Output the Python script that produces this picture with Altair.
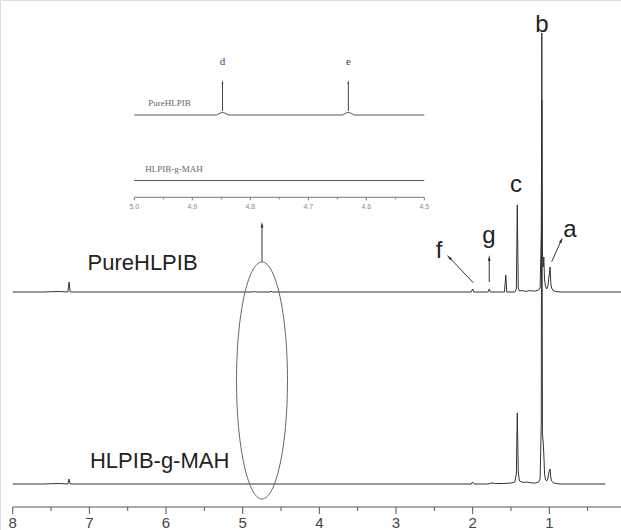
import altair as alt
import pandas as pd

# ---------------- data ----------------
# Main 1H NMR traces: chemical shift (ppm) and relative intensity
ppm_pure = [8.00, 7.60, 7.40, 7.28, 7.265, 7.25, 6.50, 5.50, 4.86, 4.848, 4.835, 4.64, 4.631, 4.62,
            3.00, 2.02, 2.00, 1.985, 1.80, 1.783, 1.77, 1.585, 1.568, 1.555, 1.45, 1.43, 1.418, 1.405,
            1.39, 1.36, 1.33, 1.30, 1.26, 1.22, 1.18, 1.14, 1.12, 1.105, 1.098, 1.09, 1.08, 1.072,
            1.062, 1.05, 1.035, 1.02, 1.005, 0.99, 0.98, 0.97, 0.95, 0.92, 0.85, 0.60, 0.30, 0.00]
int_pure = [0, 0, 0.5, 0, 10, 0, 0, 0, 0, 1, 0, 0, 1, 0,
            0, 0, 3, 0, 0, 3, 0, 0, 17, 0, 0, 3, 87, 4,
            1, 1.5, 1, 0.5, 1.5, 1, 1, 2, 4, 60, 192, 40, 25, 35,
            12, 6, 3, 5, 15, 25, 8, 4, 1.5, 0.5, 0, 0, 0, 0]

ppm_mah = [8.00, 7.60, 7.40, 7.28, 7.265, 7.25, 6.50, 5.00, 4.00, 2.02, 2.00, 1.98, 1.80, 1.75,
           1.70, 1.60, 1.50, 1.45, 1.43, 1.418, 1.405, 1.39, 1.36, 1.33, 1.30, 1.26, 1.22, 1.18,
           1.14, 1.12, 1.105, 1.098, 1.09, 1.08, 1.072, 1.062, 1.05, 1.035, 1.02, 1.005, 0.99,
           0.98, 0.97, 0.95, 0.92, 0.85, 0.60, 0.27]
int_mah = [0, 0, 0.5, 0, 5, 0, 0, 0, 0, 0, 2, 0, 0, 1,
           0.5, 0.5, 1, 2, 10, 71, 12, 3, 2, 1.5, 2, 1.5, 1, 1,
           2, 5, 60, 451, 50, 42, 30, 10, 4, 3, 5, 12, 15,
           6, 3, 1.5, 0.5, 0, 0, 0]

# Inset (5.0 - 4.5 ppm zoom)
inset_ppm_pure = [5.0, 4.858, 4.852, 4.848, 4.844, 4.838, 4.641, 4.635, 4.631, 4.627, 4.621, 4.5]
inset_int_pure = [0, 0, 2, 2.5, 2, 0, 0, 2, 2.5, 2, 0, 0]
inset_ppm_mah = [5.0, 4.5]
inset_int_mah = [0, 0]

# Axis ticks
main_ticks = [1, 2, 3, 4, 5, 6, 7, 8]
main_tick_labels = ["1", "2", "3", "4", "5", "6", "7", "8"]
main_minor = [0.5, 1.5, 2.5, 3.5, 4.5, 5.5, 6.5, 7.5]
axis_range = [8.0, 0.0]
inset_major = [5.0, 4.9, 4.8, 4.7, 4.6, 4.5]
inset_major_labels = ["5.0", "4.9", "4.8", "4.7", "4.6", "4.5"]
inset_minor = [4.95, 4.85, 4.75, 4.65, 4.55]

# Peak labels
peak_labels = ["b", "c", "a", "g", "f"]
peak_label_ppm = [1.095, 1.435, 0.730, 1.787, 2.439]
peak_label_y = [452.3, 292.3, 246.7, 241.0, 226.0]

# Trace names
trace_names = ["PureHLPIB", "HLPIB-g-MAH"]
trace_name_ppm = [7.024, 6.992]
trace_name_y = [214.0, 16.0]

inset_names = ["PureHLPIB", "HLPIB-g-MAH"]
inset_name_ppm = [4.976, 4.981]
inset_name_y = [381.5, 315.5]
inset_peak_labels = ["d", "e"]
inset_peak_ppm = [4.848, 4.631]
inset_peak_y = [422.0, 422.0]

# Arrows (start ppm, end ppm, start y, end y, head angle)
arrow_x = [1.992, 1.784, 0.969, 4.748]
arrow_x2 = [2.309, 1.784, 0.842, 4.748]
arrow_y = [201.3, 202.0, 222.3, 222.3]
arrow_y2 = [226.8, 226.0, 244.0, 259.3]
arrow_angle = [316.8, 0, 24.6, 0]
inset_arrow_x = [4.848, 4.631]
inset_arrow_y = [373.0, 373.0]
inset_arrow_y2 = [402.0, 402.0]

# Ellipse highlighting the 4.5-5.0 ppm region of the lower trace
ellipse_ppm = [4.748]
ellipse_y = [103.5]

# ---------------- layout constants ----------------
OFFSET_PURE = 192
OFFSET_MAH = 0
OFFSET_INSET_PURE = 369
OFFSET_INSET_MAH = 303.5
AXIS_Y = -23
MAJOR_LEN = 7
MINOR_LEN = 4
AXIS_LABEL_Y = -39
INSET_AXIS_Y = 286.7
INSET_LABEL_Y = 277.3

W, H = 621, 530
X_MAIN = alt.Scale(domain=[0.0650, 8.1657], reverse=True, nice=False, zero=False)
X_INSET = alt.Scale(domain=[4.1609, 5.2316], reverse=True, nice=False, zero=False)
Y = alt.Scale(domain=[-46, 484], nice=False, zero=False)

INK = "#333333"
AXC = "#555555"


def trace(ppm, inten, offset, name):
    return pd.DataFrame({"ppm": ppm, "y": [offset + v for v in inten],
                         "i": list(range(len(ppm))), "s": name})


spec = pd.concat([trace(ppm_pure, int_pure, OFFSET_PURE, "pure"),
                  trace(ppm_mah, int_mah, OFFSET_MAH, "mah")])
inset = pd.concat([trace(inset_ppm_pure, inset_int_pure, OFFSET_INSET_PURE, "pure"),
                   trace(inset_ppm_mah, inset_int_mah, OFFSET_INSET_MAH, "mah")])


def xm(f="ppm"):
    return alt.X(f"{f}:Q", scale=X_MAIN, axis=None)


def yy(f="y"):
    return alt.Y(f"{f}:Q", scale=Y, axis=None)


def xi(f="ppm"):
    return alt.X(f"{f}:Q", scale=X_INSET, axis=None)


spectra = alt.Chart(spec).mark_line(color=INK, strokeWidth=1).encode(
    x=xm(), y=yy(), detail="s:N", order="i:Q")

axis_line = alt.Chart(pd.DataFrame({"x": [axis_range[0]], "x2": [axis_range[1]], "y": [AXIS_Y]})
                      ).mark_rule(color=AXC, strokeWidth=1).encode(
    x=xm("x"), x2="x2:Q", y=yy())

ticks = alt.Chart(pd.concat([
    pd.DataFrame({"x": main_ticks, "y": AXIS_Y, "y2": AXIS_Y - MAJOR_LEN}),
    pd.DataFrame({"x": main_minor, "y": AXIS_Y, "y2": AXIS_Y - MINOR_LEN})])
).mark_rule(color=AXC, strokeWidth=1).encode(x=xm("x"), y=yy(), y2="y2:Q")

tick_txt = alt.Chart(pd.DataFrame({"t": main_tick_labels, "x": main_ticks, "y": AXIS_LABEL_Y})
                     ).mark_text(font="Liberation Sans", fontSize=15, color="#444444",
                                 align="center", baseline="middle").encode(
    x=xm("x"), y=yy(), text="t:N")

peaks_txt = alt.Chart(pd.DataFrame({"t": peak_labels, "x": peak_label_ppm, "y": peak_label_y})
                      ).mark_text(font="Liberation Sans", fontSize=24, color="#222222",
                                  align="center", baseline="alphabetic").encode(
    x=xm("x"), y=yy(), text="t:N")

names_txt = alt.Chart(pd.DataFrame({"t": trace_names, "x": trace_name_ppm, "y": trace_name_y})
                      ).mark_text(font="Liberation Sans", fontSize=22, color="#222222",
                                  align="left", baseline="alphabetic").encode(
    x=xm("x"), y=yy(), text="t:N")

arrows_df = pd.DataFrame({"x": arrow_x, "x2": arrow_x2, "y": arrow_y, "y2": arrow_y2,
                          "a": arrow_angle})
shafts = alt.Chart(arrows_df).mark_rule(color=INK, strokeWidth=1).encode(
    x=xm("x"), x2="x2:Q", y=yy(), y2="y2:Q")
ARROW = "M 0 -1 L 0.45 1 L -0.45 1 Z"
heads = alt.Chart(arrows_df).mark_point(shape=ARROW, size=36, filled=True, color=INK,
                                        opacity=1).encode(
    x=xm("x2"), y=yy("y2"), angle=alt.Angle("a:Q", scale=None))

ELLIPSE = ("M 0 -1 C 0.1188 -1 0.2151 -0.5523 0.2151 0 C 0.2151 0.5523 0.1188 1 0 1 "
           "C -0.1188 1 -0.2151 0.5523 -0.2151 0 C -0.2151 -0.5523 -0.1188 -1 0 -1 Z")
ellipse = alt.Chart(pd.DataFrame({"x": ellipse_ppm, "y": ellipse_y})).mark_point(
    shape=ELLIPSE, size=237 * 237, filled=False, color="#666666", strokeWidth=1, opacity=1
).encode(x=xm("x"), y=yy())

main = alt.layer(spectra, axis_line, ticks, tick_txt, peaks_txt, names_txt, shafts, heads,
                 ellipse)

# ---------------- inset ----------------
inset_lines = alt.Chart(inset).mark_line(color="#555555", strokeWidth=1).encode(
    x=xi(), y=yy(), detail="s:N", order="i:Q")
inset_axis = alt.Chart(pd.DataFrame({"x": [inset_major[0]], "x2": [inset_major[-1]],
                                     "y": [INSET_AXIS_Y]})).mark_rule(
    color="#777777", strokeWidth=1).encode(x=xi("x"), x2="x2:Q", y=yy())
inset_ticks = alt.Chart(pd.concat([
    pd.DataFrame({"x": inset_major, "y": INSET_AXIS_Y, "y2": INSET_AXIS_Y - 3}),
    pd.DataFrame({"x": inset_minor, "y": INSET_AXIS_Y, "y2": INSET_AXIS_Y - 2})])
).mark_rule(color="#777777", strokeWidth=1).encode(x=xi("x"), y=yy(), y2="y2:Q")
inset_tick_txt = alt.Chart(pd.DataFrame({"t": inset_major_labels, "x": inset_major,
                                         "y": INSET_LABEL_Y})).mark_text(
    font="Liberation Sans", fontSize=7, color="#888888", align="center", baseline="middle"
).encode(x=xi("x"), y=yy(), text="t:N")
inset_names_txt = alt.Chart(pd.DataFrame({"t": inset_names, "x": inset_name_ppm,
                                          "y": inset_name_y})).mark_text(
    font="Liberation Serif", fontSize=9, color="#666666", align="left", baseline="middle"
).encode(x=xi("x"), y=yy(), text="t:N")
inset_peak_txt = alt.Chart(pd.DataFrame({"t": inset_peak_labels, "x": inset_peak_ppm,
                                         "y": inset_peak_y})).mark_text(
    font="Liberation Serif", fontSize=11, color="#444444", align="center", baseline="middle"
).encode(x=xi("x"), y=yy(), text="t:N")
inset_arrows_df = pd.DataFrame({"x": inset_arrow_x, "y": inset_arrow_y, "y2": inset_arrow_y2})
inset_shafts = alt.Chart(inset_arrows_df).mark_rule(color="#444444", strokeWidth=1).encode(
    x=xi("x"), y=yy(), y2="y2:Q")
inset_heads = alt.Chart(inset_arrows_df).mark_point(shape=ARROW, size=16, filled=True,
                                                    color="#444444", opacity=1).encode(
    x=xi("x"), y=yy("y2"))

inset_layer = alt.layer(inset_lines, inset_axis, inset_ticks, inset_tick_txt,
                        inset_names_txt, inset_peak_txt, inset_shafts, inset_heads)

chart = alt.layer(main, inset_layer).resolve_scale(x="independent").properties(
    width=W, height=H,
    autosize=alt.AutoSizeParams(type="none"),
    padding=0,
).configure_view(stroke=None).configure(background="white")

chart.save("out.html", embed_options={"renderer": "svg", "actions": False})
